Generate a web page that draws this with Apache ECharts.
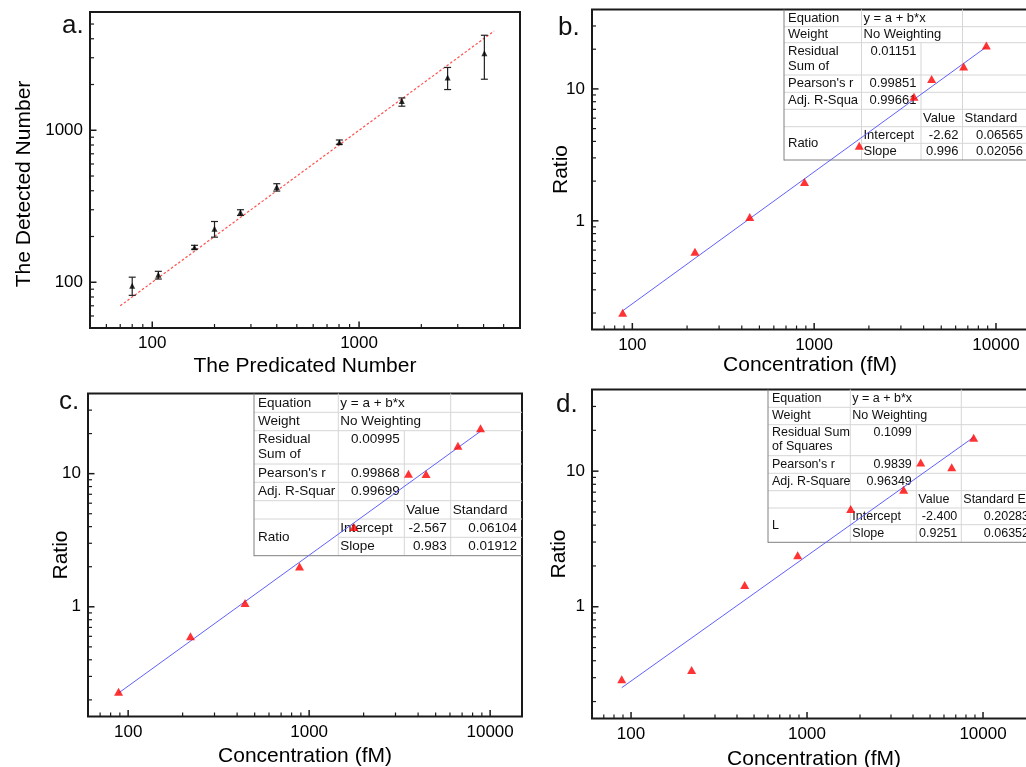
<!DOCTYPE html>
<html><head><meta charset="utf-8">
<script src="https://cdn.jsdelivr.net/npm/echarts@6/dist/echarts.min.js"></script>
<style>html,body{margin:0;padding:0;background:#fff}#c{width:1026px;height:767px}</style>
</head><body><div id="c"></div>
<script>
// ---------- DATA ----------
// Panel a
const aPredicted = [80, 107, 160, 200, 267, 400, 803, 1610, 2680, 4035];
const aDetected  = [95, 112, 170, 225, 289, 423, 834, 1560, 2225, 3206];
const aErrLow    = [82, 105, 165, 198, 275, 398, 809, 1440, 1853, 2167];
const aErrHigh   = [108, 118, 175, 251, 300, 445, 863, 1632, 2590, 4218];
const aRefLine   = [[70, 70], [4500, 4500]];

// Panels b, c, d
const concentration = [88.5, 221, 442.5, 885, 1770, 3540, 4425, 6640, 8850];
const ratioB = [0.201, 0.582, 1.07, 1.97, 3.71, 8.74, 11.9, 14.8, 21.3];
const ratioC = [0.23, 0.601, 1.07, 2.01, 3.97, 10.0, 9.95, 16.2, 21.9];
const ratioD = [0.292, 0.342, 1.45, 2.40, 5.27, 7.28, 11.6, 10.7, 17.6];
const fitB = [[88.5, 0.208], [8850, 20.8]];
const fitC = [[88.5, 0.225], [8850, 20.8]];
const fitD = [[88.5, 0.253], [8850, 17.8]];

// Axis ranges
const aRange = [50, 6000];
const concRange = [60, 15000];
const concRangeD = [60, 20000];
const ratioRange = [0.15, 40];

// Tick values
const aMajor = [100, 1000];
const aMinor = [60, 70, 80, 90, 200, 300, 400, 500, 600, 700, 800, 900, 2000, 3000, 4000, 5000];
const concMajor = [100, 1000, 10000];
const concMinor = [70, 80, 90, 200, 300, 400, 500, 600, 700, 800, 900, 2000, 3000, 4000, 5000, 6000, 7000, 8000, 9000];
const ratioMajor = [1, 10];
const ratioMinor = [0.2, 0.3, 0.4, 0.5, 0.6, 0.7, 0.8, 0.9, 2, 3, 4, 5, 6, 7, 8, 9, 20, 30];

// Text
const panelLabels = ['a.', 'b.', 'c.', 'd.'];
const aXName = 'The Predicated Number';
const aYName = 'The Detected Number';
const concName = 'Concentration (fM)';
const ratioName = 'Ratio';

const fitRowLabels = ['Equation', 'Weight'];
const fitEquation = ['y = a + b*x', 'No Weighting'];
const tblBLabels = [['Residual', 'Sum of'], "Pearson's r", 'Adj. R-Squa', 'Ratio'];
const tblBValues = ['0.01151', '0.99851', '0.99661'];
const tblBHeader = ['Value', 'Standard'];
const tblBParams = [['Intercept', '-2.62', '0.06565'], ['Slope', '0.996', '0.02056']];

const tblCLabels = [['Residual', 'Sum of'], "Pearson's r", 'Adj. R-Squar', 'Ratio'];
const tblCValues = ['0.00995', '0.99868', '0.99699'];
const tblCHeader = ['Value', 'Standard'];
const tblCParams = [['Intercept', '-2.567', '0.06104'], ['Slope', '0.983', '0.01912']];

const tblDLabels = [['Residual Sum', 'of Squares'], "Pearson's r", 'Adj. R-Square', 'L'];
const tblDValues = ['0.1099', '0.9839', '0.96349'];
const tblDHeader = ['Value', 'Standard Error'];
const tblDParams = [['Intercept', '-2.400', '0.20283'], ['Slope', '0.9251', '0.06352']];

// ---------- CHART ----------
const FONT = "'Liberation Sans', Arial, sans-serif";
const chart = echarts.init(document.getElementById('c'), null, {renderer: 'canvas'});

const grids = [
  {left: 90, top: 12, width: 430, height: 316},
  {left: 592, top: 9.5, width: 436, height: 320},
  {left: 88, top: 393.5, width: 434, height: 323},
  {left: 592, top: 389.5, width: 444, height: 329}
].map(g => Object.assign(g, {show: true, borderColor: '#1a1a1a', borderWidth: 2, backgroundColor: 'transparent',
  containLabel: false, outerBoundsMode: 'none'}));

function fmt(majors) {
  return v => {
    const m = majors.find(t => Math.abs(Math.log10(v / t)) < 1e-4);
    return m !== undefined ? String(m) : '';
  };
}
function axisDef(gi, range, majors, fs, name, gap, extraName) {
  return {
    type: 'log', logBase: 10, gridIndex: gi, min: range[0], max: range[1],
    axisLine: {show: false}, axisTick: {show: false}, splitLine: {show: false}, minorTick: {show: false},
    axisLabel: {interval: 0, margin: 7, fontSize: fs, color: '#000', fontFamily: FONT,
      showMinLabel: false, showMaxLabel: false, formatter: fmt(majors)},
    name: name, nameLocation: 'middle', nameGap: gap, nameMoveOverlap: false,
    nameTextStyle: Object.assign({fontSize: 21, color: '#000', fontFamily: FONT}, extraName || {})
  };
}

const xAxes = [
  axisDef(0, aRange, aMajor, 17, aXName, 28),
  axisDef(1, concRange, concMajor, 17, concName, 25),
  axisDef(2, concRange, concMajor, 17, concName, 29),
  axisDef(3, concRangeD, concMajor, 17, concName, 30)
];
const yAxes = [
  axisDef(0, aRange, aMajor, 17, aYName, 55, {padding: [0, 28, 0, 0]}),
  axisDef(1, ratioRange, ratioMajor, 17, ratioName, 20),
  axisDef(2, ratioRange, ratioMajor, 17, ratioName, 16),
  axisDef(3, ratioRange, ratioMajor, 17, ratioName, 22)
];

function tickSeries(gi, axis, majors, minors, xr, yr) {
  const data = [];
  majors.forEach(v => data.push(axis === 'x' ? [v, yr[0], 1] : [xr[0], v, 1]));
  minors.forEach(v => data.push(axis === 'x' ? [v, yr[0], 0] : [xr[0], v, 0]));
  return {
    type: 'custom', xAxisIndex: gi, yAxisIndex: gi, silent: true, clip: false, z: 6,
    data: data,
    renderItem(params, api) {
      const cs = params.coordSys;
      const p = api.coord([api.value(0), api.value(1)]);
      const len = api.value(2) ? 6.5 : 4;
      const st = {stroke: '#1a1a1a', lineWidth: api.value(2) ? 1.5 : 1.2};
      if (axis === 'x') {
        const yb = cs.y + cs.height;
        return {type: 'line', shape: {x1: p[0], y1: yb, x2: p[0], y2: yb - len}, style: st};
      }
      return {type: 'line', shape: {x1: cs.x, y1: p[1], x2: cs.x + len, y2: p[1]}, style: st};
    }
  };
}

const series = [];
// Panel a
series.push({type: 'line', xAxisIndex: 0, yAxisIndex: 0, data: aRefLine, symbol: 'none', silent: true,
  lineStyle: {color: '#ff5050', width: 1.2, type: [2.5, 2]}, z: 2});
series.push({type: 'custom', xAxisIndex: 0, yAxisIndex: 0, silent: true, z: 3,
  data: aPredicted.map((x, i) => [x, aErrLow[i], aErrHigh[i]]),
  renderItem(params, api) {
    const lo = api.coord([api.value(0), api.value(1)]);
    const hi = api.coord([api.value(0), api.value(2)]);
    const w = 3.5, st = {stroke: '#222', lineWidth: 1.2};
    return {type: 'group', children: [
      {type: 'line', shape: {x1: lo[0], y1: lo[1], x2: hi[0], y2: hi[1]}, style: st},
      {type: 'line', shape: {x1: lo[0] - w, y1: lo[1], x2: lo[0] + w, y2: lo[1]}, style: st},
      {type: 'line', shape: {x1: hi[0] - w, y1: hi[1], x2: hi[0] + w, y2: hi[1]}, style: st}
    ]};
  }});
series.push({type: 'scatter', xAxisIndex: 0, yAxisIndex: 0, symbol: 'triangle', symbolSize: [6, 6],
  itemStyle: {color: '#000'}, data: aPredicted.map((x, i) => [x, aDetected[i]]), z: 4});

// Panels b, c, d
[[1, fitB, ratioB], [2, fitC, ratioC], [3, fitD, ratioD]].forEach(([gi, fit, ratio]) => {
  series.push({type: 'line', xAxisIndex: gi, yAxisIndex: gi, data: fit, symbol: 'none', silent: true,
    lineStyle: {color: '#6060ff', width: 1}, z: 3});
  series.push({type: 'scatter', xAxisIndex: gi, yAxisIndex: gi, symbol: 'triangle', symbolSize: [9, 8],
    itemStyle: {color: '#ff0000'}, data: concentration.map((x, i) => [x, ratio[i]]), z: 4});
});

// Ticks
series.push(tickSeries(0, 'x', aMajor, aMinor, aRange, aRange));
series.push(tickSeries(0, 'y', aMajor, aMinor, aRange, aRange));
series.push(tickSeries(1, 'x', concMajor, concMinor, concRange, ratioRange));
series.push(tickSeries(1, 'y', ratioMajor, ratioMinor, concRange, ratioRange));
series.push(tickSeries(2, 'x', concMajor, concMinor, concRange, ratioRange));
series.push(tickSeries(2, 'y', ratioMajor, ratioMinor, concRange, ratioRange));
series.push(tickSeries(3, 'x', concMajor, concMinor, concRangeD, ratioRange));
series.push(tickSeries(3, 'y', ratioMajor, ratioMinor, concRangeD, ratioRange));

// ---------- TABLES (graphic) ----------
const elements = [];
function txt(s, x, y, fs, align, vAlign) {
  elements.push({type: 'text', x: x, y: y, silent: true, z: 1,
    style: {text: s, font: fs + 'px ' + FONT, fill: '#111', align: align || 'left', textAlign: align || 'left',
      verticalAlign: vAlign || 'middle', textVerticalAlign: vAlign || 'middle'}});
}
function ln(x1, y1, x2, y2, c) {
  elements.push({type: 'line', silent: true, z: 0, shape: {x1, y1, x2, y2}, style: {stroke: c, lineWidth: 1}});
}
function drawTable(L, labels, values, header, params) {
  const C = L.cols, R = L.rows, fs = L.fs, light = '#d6d6d6', dark = '#808080';
  for (let i = 1; i <= 7; i++) {
    if (i === 7) ln(C[1], R[i], C[4], R[i], light); else ln(C[0], R[i], C[4], R[i], light);
  }
  ln(C[1], R[0], C[1], R[8], light);
  ln(C[2], R[2], C[2], R[8], light);
  ln(C[3], R[0], C[3], R[8], light);
  ln(C[0], R[0], C[0], R[8] + 0.5, dark);
  ln(C[0], R[8], C[4], R[8], dark);
  const mid = i => (R[i] + R[i + 1]) / 2;
  const lp = 4, ip = 2;
  txt(fitRowLabels[0], C[0] + lp, mid(0), fs);
  txt(fitEquation[0], C[1] + ip, mid(0), fs);
  txt(fitRowLabels[1], C[0] + lp, mid(1), fs);
  txt(fitEquation[1], C[1] + ip, mid(1), fs);
  const l1 = R[2] + (R[3] - R[2]) * 0.26, l2 = R[2] + (R[3] - R[2]) * 0.72;
  txt(labels[0][0], C[0] + lp, l1, fs);
  txt(labels[0][1], C[0] + lp, l2, fs);
  txt(values[0], C[2] - 4.5, l1, fs, 'right');
  txt(labels[1], C[0] + lp, mid(3), fs);
  txt(values[1], C[2] - 4.5, mid(3), fs, 'right');
  txt(labels[2], C[0] + lp, mid(4), fs);
  txt(values[2], C[2] - 4.5, mid(4), fs, 'right');
  txt(header[0], C[2] + ip, mid(5), fs);
  txt(header[1], C[3] + ip, mid(5), fs);
  txt(labels[3], C[0] + lp, (R[6] + R[8]) / 2, fs);
  params.forEach((p, k) => {
    txt(p[0], C[1] + ip, mid(6 + k), fs);
    txt(p[1], C[3] - 4, mid(6 + k), fs, 'right');
    txt(p[2], L.rightText, mid(6 + k), fs, 'right');
  });
}
drawTable({cols: [784, 861.5, 921, 962.5, 1030], rows: [9.5, 26.7, 42.7, 75, 92.3, 109.3, 126.7, 143.3, 160], fs: 13, rightText: 1023},
  tblBLabels, tblBValues, tblBHeader, tblBParams);
drawTable({cols: [254, 338.3, 404.3, 450.7, 522], rows: [393.5, 412.3, 430.7, 464, 482.3, 500.7, 519, 537.3, 555.7], fs: 13.5, rightText: 517},
  tblCLabels, tblCValues, tblCHeader, tblCParams);
drawTable({cols: [768, 850.3, 916.3, 961.3, 1040], rows: [389.5, 407.3, 424.7, 455.7, 473.3, 490.7, 508, 524.7, 542.3], fs: 12.5, rightText: 1029},
  tblDLabels, tblDValues, tblDHeader, tblDParams);

// Panel letters
const labelPos = [[62, 39], [558, 40.5], [59, 414.5], [556, 417.5]];
panelLabels.forEach((s, i) => txt(s, labelPos[i][0], labelPos[i][1], 26, 'left', 'bottom'));

chart.setOption({
  animation: false,
  backgroundColor: '#fff',
  grid: grids,
  xAxis: xAxes,
  yAxis: yAxes,
  series: series,
  graphic: {elements: elements}
});
</script>
</body></html>
